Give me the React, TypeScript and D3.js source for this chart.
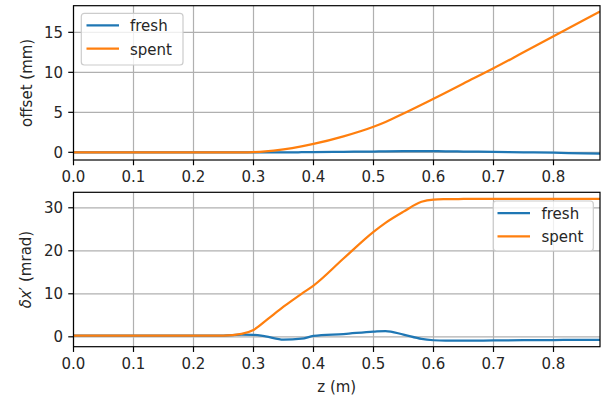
import React from "react";
import * as d3 from "d3";

const zValues = [0, 0.05, 0.1, 0.15, 0.2, 0.25, 0.28, 0.3, 0.32, 0.35, 0.38, 0.4, 0.45, 0.5, 0.52, 0.55, 0.58, 0.6, 0.62, 0.65, 0.7, 0.75, 0.8, 0.85, 0.8775];
const offsetFresh = [0, 0, 0, 0, 0, 0, 0, 0, 0, 0, 0.01, 0.02, 0.06, 0.1, 0.12, 0.14, 0.15, 0.14, 0.13, 0.1, 0.05, 0, -0.05, -0.12, -0.15];
const offsetSpent = [0, 0, 0, 0, 0, 0, 0, 0.03, 0.12, 0.38, 0.75, 1.05, 2.0, 3.2, 3.8, 4.85, 5.95, 6.7, 7.45, 8.6, 10.5, 12.5, 14.5, 16.5, 17.6];
const dxFresh = [0.25, 0.25, 0.25, 0.25, 0.25, 0.3, 0.5, 0.45, 0.1, -0.65, -0.45, 0.2, 0.65, 1.2, 1.35, 0.5, -0.5, -0.8, -0.9, -0.9, -0.85, -0.8, -0.75, -0.7, -0.7];
const dxSpent = [0.25, 0.25, 0.25, 0.25, 0.25, 0.3, 0.7, 1.6, 3.7, 7.0, 10.0, 11.9, 18.2, 24.4, 26.5, 29.1, 31.4, 31.9, 32.0, 32.05, 32.1, 32.1, 32.1, 32.1, 32.1];

const xTicks = [0, 0.1, 0.2, 0.3, 0.4, 0.5, 0.6, 0.7, 0.8];
const topYTicks = [0, 5, 10, 15];
const botYTicks = [0, 10, 20, 30];
const seriesNames = ["fresh", "spent"];
const colors = ["#1f77b4", "#ff7f0e"];

const FONT = "DejaVu Sans";
const FS = 15;
const LEFT = 73.5;
const RIGHT = 600;
const TICK = 5.25;

const xScale = d3.scaleLinear().domain([0, 0.8775]).range([LEFT, RIGHT]);

type PanelProps = {
  top: number;
  bottom: number;
  yDomain: [number, number];
  yTicks: number[];
  series: number[][];
  legend: { x: number; y: number; w: number; h: number; lineY: number[]; lineX0: number; lineX1: number; textX: number };
  clipId: string;
};

function Panel({ top, bottom, yDomain, yTicks, series, legend, clipId }: PanelProps) {
  const y = d3.scaleLinear().domain(yDomain).range([bottom, top]);
  const line = d3
    .line<number>()
    .x((_, i) => xScale(zValues[i]))
    .y((d) => y(d))
    .curve(d3.curveMonotoneX);
  return (
    <g>
      <defs>
        <clipPath id={clipId}>
          <rect x={LEFT} y={top} width={RIGHT - LEFT} height={bottom - top} />
        </clipPath>
      </defs>
      <rect x={LEFT} y={top} width={RIGHT - LEFT} height={bottom - top} fill="#fff" />
      {xTicks.map((t) => (
        <line key={"gx" + t} x1={xScale(t)} x2={xScale(t)} y1={top} y2={bottom} stroke="#b0b0b0" strokeWidth={1.2} />
      ))}
      {yTicks.map((t) => (
        <line key={"gy" + t} x1={LEFT} x2={RIGHT} y1={y(t)} y2={y(t)} stroke="#b0b0b0" strokeWidth={1.2} />
      ))}
      <g clipPath={`url(#${clipId})`}>
        {series.map((s, i) => (
          <path key={i} d={line(s) || ""} fill="none" stroke={colors[i]} strokeWidth={2.25} strokeLinejoin="round" />
        ))}
      </g>
      <rect x={LEFT} y={top} width={RIGHT - LEFT} height={bottom - top} fill="none" stroke="#000" strokeWidth={1.2} />
      {xTicks.map((t) => (
        <g key={"tx" + t}>
          <line x1={xScale(t)} x2={xScale(t)} y1={bottom} y2={bottom + TICK} stroke="#000" strokeWidth={1.2} />
          <text x={xScale(t)} y={bottom + 22} textAnchor="middle" fontFamily={FONT} fontSize={FS} fill="#262626">
            {t.toFixed(1)}
          </text>
        </g>
      ))}
      {yTicks.map((t) => (
        <g key={"ty" + t}>
          <line x1={LEFT - TICK} x2={LEFT} y1={y(t)} y2={y(t)} stroke="#000" strokeWidth={1.2} />
          <text x={LEFT - 10.5} y={y(t) + 5.4} textAnchor="end" fontFamily={FONT} fontSize={FS} fill="#262626">
            {t}
          </text>
        </g>
      ))}
      <rect x={legend.x} y={legend.y} width={legend.w} height={legend.h} rx={3} ry={3} fill="#fff" fillOpacity={0.8} stroke="#cccccc" strokeWidth={1.2} />
      {seriesNames.map((n, i) => (
        <g key={n}>
          <line x1={legend.lineX0} x2={legend.lineX1} y1={legend.lineY[i]} y2={legend.lineY[i]} stroke={colors[i]} strokeWidth={2.25} />
          <text x={legend.textX} y={legend.lineY[i] + 6} fontFamily={FONT} fontSize={FS} fill="#262626">
            {n}
          </text>
        </g>
      ))}
    </g>
  );
}

export default function App() {
  return (
    <svg width={602} height={401} style={{ position: "absolute", left: 0, top: 0, background: "#fff" }}>
      <Panel
        top={5.7}
        bottom={160}
        yDomain={[-0.96, 18.33]}
        yTicks={topYTicks}
        series={[offsetFresh, offsetSpent]}
        clipId="c1"
        legend={{ x: 81.3, y: 13.3, w: 101.7, h: 51.7, lineY: [25.3, 48.7], lineX0: 86.5, lineX1: 119, textX: 130 }}
      />
      <Panel
        top={192.3}
        bottom={346.7}
        yDomain={[-2.3, 33.6]}
        yTicks={botYTicks}
        series={[dxFresh, dxSpent]}
        clipId="c2"
        legend={{ x: 493.3, y: 201, w: 100, h: 50, lineY: [213, 236.3], lineX0: 497.5, lineX1: 530, textX: 541.5 }}
      />
      <text transform={`translate(32,${(5.7 + 160) / 2}) rotate(-90)`} textAnchor="middle" fontFamily={FONT} fontSize={FS} fill="#262626">
        offset (mm)
      </text>
      <text transform={`translate(30.5,${(192.3 + 346.7) / 2}) rotate(-90)`} textAnchor="middle" fontFamily={FONT} fontSize={FS} fill="#262626">
        <tspan fontStyle="italic">δx</tspan>
        <tspan>′ (mrad)</tspan>
      </text>
      <text x={(LEFT + RIGHT) / 2} y={391.5} textAnchor="middle" fontFamily={FONT} fontSize={FS} fill="#262626">
        z (m)
      </text>
    </svg>
  );
}
